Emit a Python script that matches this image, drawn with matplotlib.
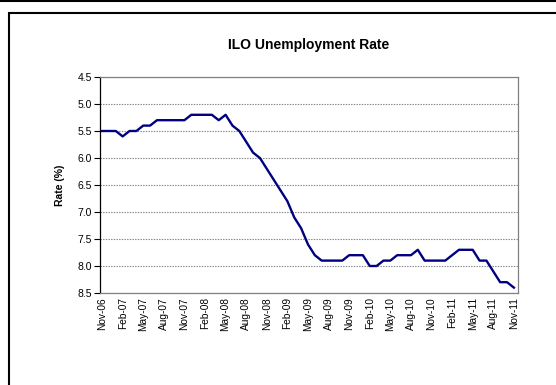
import matplotlib
matplotlib.use("Agg")
import matplotlib.pyplot as plt
from matplotlib.lines import Line2D
from matplotlib.patches import Rectangle

# Monthly ILO unemployment rate, Nov-06 .. Nov-11
months = ["Nov-06", "Dec-06", "Jan-07", "Feb-07", "Mar-07", "Apr-07", "May-07", "Jun-07",
          "Jul-07", "Aug-07", "Sep-07", "Oct-07", "Nov-07", "Dec-07", "Jan-08", "Feb-08",
          "Mar-08", "Apr-08", "May-08", "Jun-08", "Jul-08", "Aug-08", "Sep-08", "Oct-08",
          "Nov-08", "Dec-08", "Jan-09", "Feb-09", "Mar-09", "Apr-09", "May-09", "Jun-09",
          "Jul-09", "Aug-09", "Sep-09", "Oct-09", "Nov-09", "Dec-09", "Jan-10", "Feb-10",
          "Mar-10", "Apr-10", "May-10", "Jun-10", "Jul-10", "Aug-10", "Sep-10", "Oct-10",
          "Nov-10", "Dec-10", "Jan-11", "Feb-11", "Mar-11", "Apr-11", "May-11", "Jun-11",
          "Jul-11", "Aug-11", "Sep-11", "Oct-11", "Nov-11"]
rate = [5.5, 5.5, 5.5, 5.6, 5.5, 5.5, 5.4, 5.4, 5.3, 5.3, 5.3, 5.3, 5.3, 5.2, 5.2, 5.2,
        5.2, 5.3, 5.2, 5.4, 5.5, 5.7, 5.9, 6.0, 6.2, 6.4, 6.6, 6.8, 7.1, 7.3, 7.6, 7.8,
        7.9, 7.9, 7.9, 7.9, 7.8, 7.8, 7.8, 8.0, 8.0, 7.9, 7.9, 7.8, 7.8, 7.8, 7.7, 7.9,
        7.9, 7.9, 7.9, 7.8, 7.7, 7.7, 7.7, 7.9, 7.9, 8.1, 8.3, 8.3, 8.4]
y_ticks = [4.5, 5.0, 5.5, 6.0, 6.5, 7.0, 7.5, 8.0, 8.5]
label_step = 3

plt.rcParams['font.family'] = ['Liberation Sans', 'DejaVu Sans']

W, H = 556, 385
fig = plt.figure(figsize=(W / 100, H / 100), dpi=100)
fig.patch.set_facecolor('white')

# outer chart frame
fig.add_artist(Line2D([0, 1], [1 - 0.5 / H, 1 - 0.5 / H], transform=fig.transFigure,
                      color='black', lw=1.5))
fig.add_artist(Rectangle((9 / W, -0.1), 1.2, 1.1 - 12.5 / H, transform=fig.transFigure,
                         fill=False, edgecolor='black', lw=1.5))

ax = fig.add_axes([100 / W, 1 - 293 / H, 418 / W, 216 / H])
x = list(range(len(rate)))
ax.plot(x, rate, color='#000080', lw=1.7, solid_joinstyle='round', zorder=3)

ax.set_ylim(8.5, 4.5)
ax.set_yticks(y_ticks)
ax.set_yticklabels([f"{v:.1f}" for v in y_ticks], fontsize=7.5)
ax.set_xlim(-0.3, 60.6)
ax.set_xticks(x[::label_step])
ax.set_xticklabels(months[::label_step], rotation=90, fontsize=7.3)
ax.tick_params(axis='x', length=0, pad=3)
ax.tick_params(axis='y', length=4, width=0.8, direction='out', pad=2)

ax.grid(axis='y', linestyle=(0, (1.2, 1.2)), color='#808080', lw=0.8)
ax.set_axisbelow(True)
for side in ('top', 'right', 'bottom'):
    ax.spines[side].set_color('#808080')
    ax.spines[side].set_linewidth(0.9)
ax.spines['left'].set_color('black')
ax.spines['left'].set_linewidth(0.9)

ax.set_ylabel("Rate (%)", fontsize=7.5, fontweight='bold', labelpad=9)
fig.text(309 / W, 1 - 45 / H, "ILO Unemployment Rate", ha='center', va='center',
         fontsize=10, fontweight='bold')

fig.savefig("out.png", dpi=100)
